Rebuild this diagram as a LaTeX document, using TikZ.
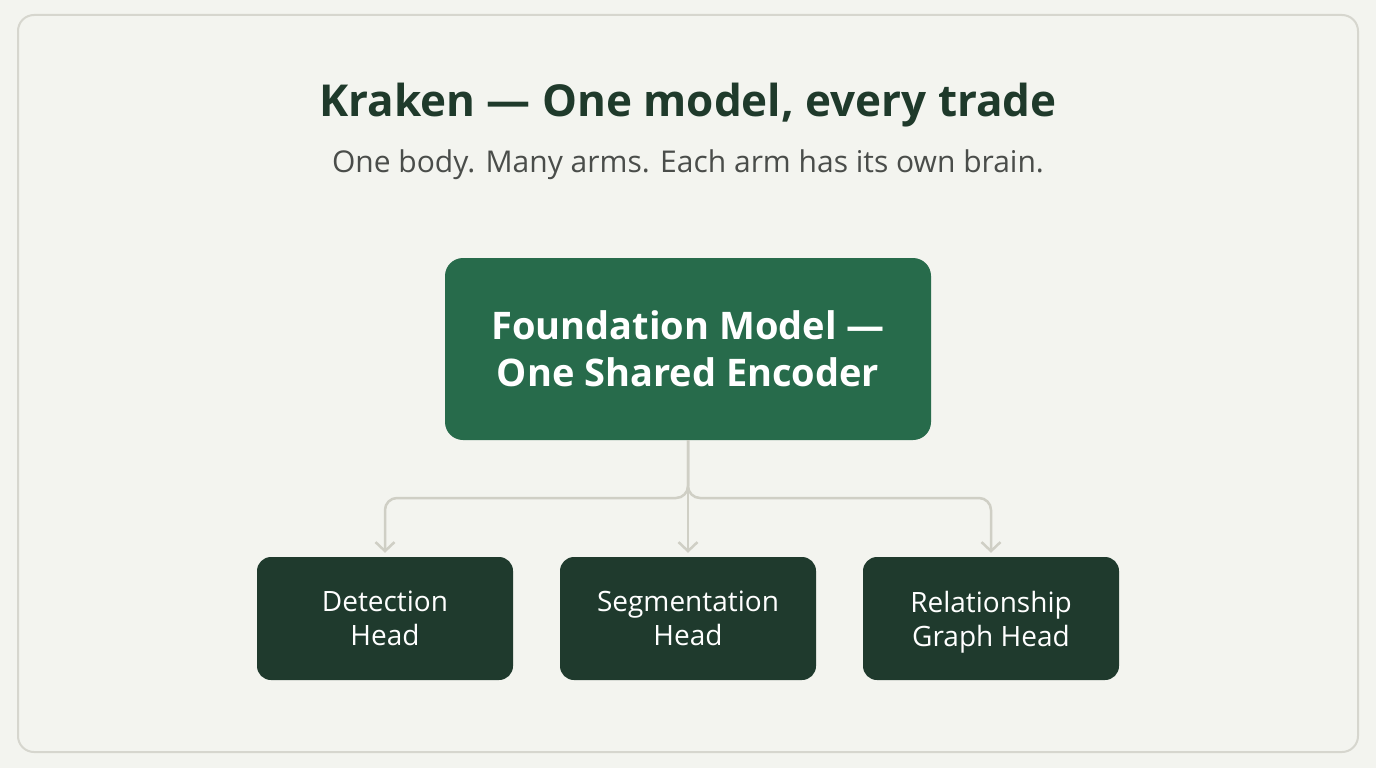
\documentclass[tikz,border=0pt]{standalone}
\usepackage{fontspec}
\setmainfont{Open Sans}
\usetikzlibrary{arrows.meta}
\definecolor{bg}{HTML}{F3F4EF}
\definecolor{frame}{HTML}{D6D6CE}
\definecolor{titlec}{HTML}{1F3A2B}
\definecolor{subc}{HTML}{4A4D4A}
\definecolor{mainc}{HTML}{276B4B}
\definecolor{headc}{HTML}{1F3A2D}
\definecolor{connc}{HTML}{CFCFC5}
\tikzset{
  mainbox/.style={draw=none, fill=mainc, rounded corners=18pt, minimum width=486pt, minimum height=182pt, text=white, align=center, font=\fontsize{38}{47}\selectfont\bfseries},
  headbox/.style={draw=none, fill=headc, rounded corners=14pt, minimum width=256pt, minimum height=123pt, text=white, align=center, text depth=0pt, font=\fontsize{28}{34}\selectfont},
  conn/.style={draw=connc, line width=2.5pt, rounded corners=12pt, -{Straight Barb[length=9pt,width=19pt,line width=2.5pt]}, shorten >=4pt},
}
\begin{document}
\begin{tikzpicture}[x=1pt,y=-1pt]
\useasboundingbox (0,0) rectangle (1376,768);
\fill[bg] (0,0) rectangle (1376,768);
\draw[frame, line width=2pt, rounded corners=16pt] (18,15) rectangle (1358,752);
\node[text=titlec, font=\fontsize{44}{52}\selectfont\bfseries] (title) at (688,105) {Kraken — One model, every trade};
\node[text=subc, font=\fontsize{30}{34}\selectfont] (sub) at (688,165) {One body. Many arms. Each arm has its own brain.};
\node[mainbox] (main) at (688,349) {Foundation Model —\\One Shared Encoder};
\node[headbox] (h1) at (385,618.5) {Detection\\Head};
\node[headbox] (h2) at (688,618.5) {Segmentation\\Head};
\node[headbox] (h3) at (991,618.5) {Relationship\\Graph Head};
\coordinate (j) at (688,498);
\draw[conn] (main.south) -- (j) -- (385,498) -- (h1.north);
\draw[conn] (main.south) -- (j) -- (991,498) -- (h3.north);
\draw[conn, rounded corners=0pt] (main.south) -- (h2.north);
\end{tikzpicture}
\end{document}
